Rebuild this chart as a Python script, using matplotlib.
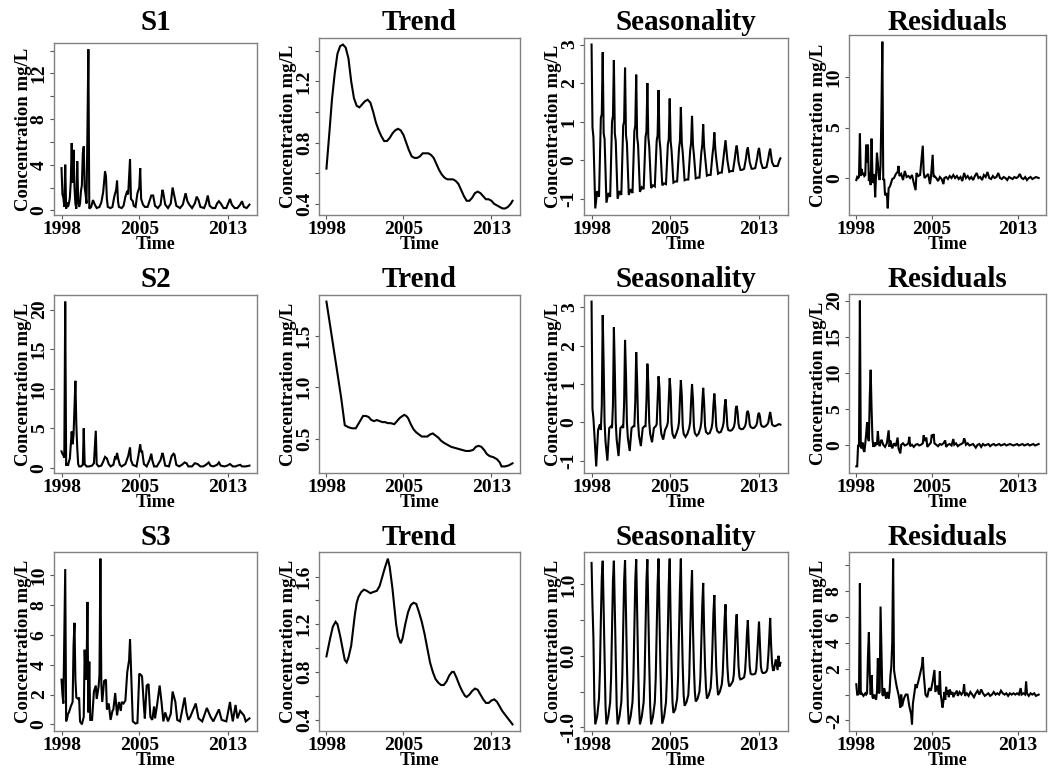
import matplotlib
matplotlib.use("Agg")
import matplotlib.pyplot as plt

# ---------------- data (months since Jan 1998) ----------------
START_YEAR = 1998
N_MONTHS = 204

s1_t = [0,1,2,3,4,5,6,7,8,9,10,11,12,13,14,15,16,17,18,19,20,21,22,23,24,25,26,27,28,29,30,
        32,34,36,38,41,43,45,47,48,49,50,53,55,57,59,60,61,62,65,67,69,71,72,74,75,77,78,80,82,84,
        85,86,88,90,93,95,97,99,101,104,107,109,110,112,115,118,120,122,124,128,131,134,136,138,
        141,144,146,148,150,154,156,158,160,163,166,168,170,172,175,178,180,182,184,187,190,193,
        195,197,200,203]
s1_v = [3.7,1.4,1.1,0.3,4.0,0.15,0.7,0.3,0.6,1.1,2.5,5.9,2.4,5.3,2.0,0.6,0.15,4.3,0.9,0.3,0.6,
        1.7,2.2,5.0,5.6,2.0,1.4,0.6,7.0,14.1,0.15,
        0.3,0.9,0.5,0.2,0.3,0.7,1.6,3.4,3.0,1.0,0.3,0.2,0.3,1.2,1.8,2.6,0.8,0.3,0.2,0.4,1.2,1.7,1.4,
        4.5,1.0,0.8,0.4,0.3,1.5,2.0,3.7,1.0,0.5,0.3,0.3,0.8,1.3,1.3,0.4,0.2,0.5,1.8,1.5,0.5,0.2,0.6,
        2.0,1.2,0.4,0.2,0.5,1.5,0.8,0.5,0.2,0.6,1.2,0.9,0.3,0.2,0.6,1.3,0.4,0.2,0.2,0.6,0.8,0.6,0.2,
        0.2,0.6,1.0,0.5,0.2,0.2,0.5,0.8,0.3,0.2,0.5]

s1_trend_t = list(range(0, 202, 3)) + [203]
s1_trend_v = [0.63,0.85,1.08,1.25,1.38,1.43,1.44,1.42,1.35,1.20,1.09,1.04,1.03,1.05,1.07,1.08,
              1.06,1.00,0.93,0.88,0.84,0.81,0.81,0.83,0.86,0.88,0.89,0.88,0.85,0.80,0.75,0.71,
              0.70,0.70,0.71,0.73,0.73,0.73,0.72,0.70,0.66,0.62,0.59,0.57,0.56,0.56,0.56,0.55,
              0.53,0.49,0.45,0.42,0.42,0.44,0.47,0.48,0.47,0.45,0.43,0.43,0.42,0.40,0.39,0.38,
              0.37,0.37,0.38,0.40,0.42]

# seasonal tables: one row per year, values at the month offsets given
s1_seas_offsets = [0, 1, 2, 4, 6, 8, 10, 11]
s1_seas = [
    [3.00, 0.85, 0.60, -1.25, -0.80, -0.95, 1.10, 1.20],
    [2.80, 0.70, 0.55, -1.10, -0.85, -0.95, 1.00, 1.15],
    [2.60, 0.70, 0.50, -1.00, -0.80, -0.90, 0.90, 1.00],
    [2.40, 0.65, 0.45, -0.90, -0.75, -0.85, 0.75, 0.90],
    [2.22, 0.60, 0.40, -0.82, -0.70, -0.75, 0.60, 0.75],
    [2.00, 0.60, 0.35, -0.72, -0.65, -0.68, 0.50, 0.65],
    [1.82, 0.55, 0.30, -0.65, -0.60, -0.62, 0.40, 0.55],
    [1.60, 0.50, 0.25, -0.58, -0.55, -0.55, 0.30, 0.50],
    [1.38, 0.45, 0.20, -0.52, -0.50, -0.50, 0.25, 0.45],
    [1.15, 0.40, 0.15, -0.47, -0.45, -0.45, 0.20, 0.40],
    [0.93, 0.35, 0.10, -0.40, -0.38, -0.38, 0.15, 0.35],
    [0.72, 0.30, 0.05, -0.35, -0.32, -0.32, 0.10, 0.30],
    [0.52, 0.25, 0.00, -0.30, -0.28, -0.28, 0.05, 0.25],
    [0.38, 0.20, -0.05, -0.25, -0.25, -0.22, 0.05, 0.25],
    [0.33, 0.15, -0.05, -0.22, -0.22, -0.20, 0.05, 0.22],
    [0.32, 0.15, -0.05, -0.20, -0.20, -0.18, 0.05, 0.20],
    [0.30, 0.12, -0.05, -0.15, -0.15, -0.15, 0.00, 0.05],
]

s1_res_t = [0,1,2,3,4,5,6,7,8,9,10,11,12,13,14,15,16,17,18,19,20,21,22,23,24,25,26,27,28,29,30,31,
            32,33,34,35,36,37,38,40,42,44,46,47,48,50,52,54,56,58,60,62,64,66,67,69,71,74,75,76,78,80,
            82,83,85,86,87,89,91,93,95,97,98,100,102,104,106,108,110,112,114,116,118,120,122,124,
            126,128,130,132,134,136,138,140,142,144,146,148,150,152,154,156,158,160,162,164,166,168,
            170,172,174,176,178,180,182,184,186,188,190,192,194,196,198,200,203]
s1_res_v = [-0.2,0.1,0.0,0.1,4.4,0.2,0.9,0.3,0.5,0.2,0.3,3.3,1.5,3.3,-0.3,0.5,-0.7,3.9,0.2,-0.5,0.4,
            -1.9,0.3,2.5,1.5,0.2,-0.2,1.3,6.7,13.5,-0.2,-0.1,-1.7,-1.6,-1.5,-3.0,-1.0,-0.9,-0.7,-0.1,
            0.0,0.4,0.6,1.2,0.2,0.4,-0.2,0.7,0.1,0.2,0.0,0.3,-0.5,-1.2,0.5,0.2,0.3,3.2,0.6,0.0,0.2,0.4,
            -0.6,0.0,2.3,0.1,0.2,0.0,-0.3,0.1,-0.1,-0.6,0.0,0.1,-0.1,0.2,0.0,0.3,0.0,0.2,-0.1,0.1,-0.3,
            0.5,0.0,0.2,-0.1,0.1,-0.2,0.2,0.5,0.0,0.1,-0.2,0.3,0.1,0.6,0.0,-0.1,0.2,0.0,0.1,0.5,0.0,
            -0.1,0.1,0.0,-0.2,0.1,0.0,-0.1,0.1,0.0,0.1,0.4,0.0,-0.1,0.1,-0.2,0.0,0.1,-0.1,0.0,0.1,0.0]

s2_t = [0,1,2,3,4,5,6,7,8,9,11,12,13,14,15,16,17,18,19,21,23,24,25,27,30,33,35,37,38,40,43,45,47,
        49,51,53,56,58,59,60,61,63,65,69,72,74,75,77,81,83,85,86,87,89,92,95,97,98,100,103,107,109,
        110,112,116,119,121,122,124,127,130,133,135,137,141,144,147,150,153,156,159,161,164,168,
        170,172,176,179,182,185,188,190,193,195,199,203]
s2_v = [2.1,1.8,1.6,1.3,21.0,0.3,0.6,0.3,0.8,1.2,4.6,3.0,4.2,7.6,11.0,5.5,2.5,0.5,0.2,0.2,0.4,5.0,
        0.5,0.2,0.2,0.3,0.6,4.7,0.5,0.2,0.3,0.8,1.4,1.2,0.5,0.2,0.4,1.5,1.1,1.9,1.3,0.4,0.2,0.5,1.5,
        2.6,1.0,0.4,0.2,1.5,3.0,2.0,2.2,0.5,0.2,1.0,1.8,1.0,0.2,0.2,1.0,1.9,1.5,0.3,0.2,1.5,1.8,1.7,
        0.4,0.2,0.4,0.7,0.6,0.2,0.2,0.6,0.5,0.2,0.2,0.4,0.7,0.3,0.2,0.4,0.7,0.3,0.2,0.3,0.5,0.2,0.2,
        0.3,0.4,0.2,0.2,0.3]

s2_trend_t = [0,10,16,20,24,28,32,36,40,43,46,49,52,55,58,61,64,67,70,74,77,80,83,85,87,89,92,95,
              98,101,104,107,110,113,116,119,122,125,128,132,136,140,144,148,152,156,160,163,166,
              169,172,175,178,182,186,189,191,195,199,203]
s2_trend_v = [1.83,1.25,0.90,0.63,0.61,0.60,0.60,0.66,0.72,0.72,0.71,0.68,0.67,0.68,0.67,0.66,0.66,
              0.65,0.65,0.64,0.67,0.70,0.72,0.73,0.72,0.70,0.64,0.59,0.56,0.54,0.52,0.52,0.52,0.54,
              0.55,0.53,0.51,0.48,0.46,0.44,0.42,0.41,0.40,0.39,0.38,0.38,0.39,0.42,0.43,0.42,0.39,
              0.35,0.33,0.32,0.30,0.27,0.23,0.23,0.24,0.26]

s2_seas_offsets = [0, 1, 2, 3, 5, 7, 9, 10, 11]
s2_seas = [
    [3.15, 0.35, 0.10, -0.30, -1.15, -0.20, -0.05, -0.20, 0.45],
    [2.80, 1.50, 0.00, -0.50, -1.00, -0.15, -0.10, -0.15, 0.45],
    [2.48, 1.35, 0.00, -0.45, -0.88, -0.15, -0.10, -0.15, 0.50],
    [2.15, 1.25, 0.00, -0.40, -0.75, -0.15, -0.10, -0.10, 0.55],
    [1.83, 1.05, 0.00, -0.35, -0.62, -0.15, -0.10, -0.10, 0.55],
    [1.53, 1.00, 0.00, -0.30, -0.52, -0.15, -0.10, -0.05, 0.60],
    [1.20, 0.90, -0.05, -0.30, -0.45, -0.20, -0.10, 0.00, 0.60],
    [1.15, 0.80, -0.05, -0.30, -0.42, -0.30, -0.15, 0.00, 0.60],
    [1.10, 0.70, -0.10, -0.30, -0.38, -0.30, -0.15, 0.00, 0.55],
    [1.00, 0.60, -0.10, -0.28, -0.35, -0.30, -0.15, 0.00, 0.50],
    [0.90, 0.50, -0.10, -0.25, -0.30, -0.28, -0.15, 0.00, 0.45],
    [0.75, 0.40, -0.10, -0.22, -0.27, -0.25, -0.12, 0.00, 0.40],
    [0.60, 0.30, -0.10, -0.20, -0.22, -0.20, -0.12, 0.00, 0.35],
    [0.43, 0.25, -0.05, -0.15, -0.18, -0.17, -0.10, 0.00, 0.25],
    [0.30, 0.20, -0.05, -0.12, -0.15, -0.14, -0.08, 0.00, 0.20],
    [0.25, 0.15, -0.05, -0.10, -0.12, -0.10, -0.05, 0.00, 0.15],
    [0.27, 0.12, -0.05, -0.08, -0.10, -0.08, -0.05, -0.05, -0.06],
]

s2_res_t = [0,1,2,3,4,5,6,7,8,9,10,11,12,13,14,15,16,17,18,19,20,21,22,23,24,25,26,27,28,30,32,34,
            36,37,38,40,42,44,46,47,49,50,52,54,56,58,59,60,62,64,66,68,70,72,74,75,76,78,79,81,83,
            84,85,86,87,89,91,93,95,97,99,100,102,104,106,108,109,111,113,115,117,119,120,121,122,
            124,126,128,130,133,135,137,139,141,143,145,147,149,151,153,155,157,159,161,163,165,
            167,169,171,173,175,177,179,181,183,185,187,189,191,193,195,197,199,201,203]
s2_res_v = [-3.0,-3.0,0.0,-0.3,20.0,-0.3,-0.5,0.3,-0.7,-1.0,0.2,1.5,3.1,1.0,0.5,6.7,10.4,5.0,0.8,
            -0.3,0.3,-0.2,0.3,0.0,1.9,0.3,-0.2,0.3,0.7,0.0,-0.3,0.2,2.0,-0.3,0.6,-0.5,0.2,-0.2,1.0,
            -0.5,-1.2,0.0,0.2,-0.1,0.0,0.2,1.1,-0.2,0.0,-0.3,0.0,0.1,-0.1,0.0,0.2,1.3,0.5,1.0,-0.3,
            0.0,0.3,1.4,1.0,1.5,0.2,0.0,-0.2,0.1,0.0,0.2,0.6,-0.3,0.0,0.1,-0.1,0.8,0.0,0.2,-0.2,0.0,
            0.1,0.3,0.9,0.6,0.0,0.2,-0.1,0.0,0.1,-0.4,0.0,0.1,-0.3,0.1,-0.1,0.0,0.1,-0.2,0.0,0.1,
            -0.1,0.0,0.1,-0.1,0.0,0.1,-0.1,0.0,0.1,0.0,-0.1,0.0,0.1,-0.1,0.0,0.1,-0.1,0.0,0.1,-0.1,
            0.0,0.1,-0.1,0.0,0.1]

s3_t = [0,1,2,4,5,6,7,8,10,12,13,14,15,16,18,19,20,22,24,25,26,27,28,29,30,31,33,35,37,38,40,41,
        42,43,44,46,48,49,51,53,55,56,58,60,62,64,65,67,69,71,73,74,76,77,80,82,84,86,87,89,90,92,
        94,96,98,100,101,103,106,108,110,112,115,118,120,123,125,128,133,135,137,139,145,148,152,
        157,161,164,170,173,178,182,183,185,188,190,193,197,199,203]
s3_v = [3.0,2.0,1.4,10.4,0.2,0.4,0.7,0.8,1.2,1.5,5.3,6.8,3.0,1.8,1.7,1.8,0.2,0.0,0.5,5.0,3.0,3.2,
        8.2,0.8,4.2,0.3,0.3,2.2,2.6,1.7,2.5,3.3,11.1,2.7,1.5,2.9,3.0,1.0,1.4,0.3,0.9,1.0,2.1,0.6,
        1.5,0.9,1.5,1.4,1.6,3.5,4.3,5.7,2.0,0.2,0.05,0.1,3.4,3.3,3.2,1.2,0.4,2.6,2.7,0.5,0.3,1.2,
        0.4,1.2,2.6,1.5,0.2,0.8,0.2,0.7,2.2,1.5,0.3,0.2,1.8,0.8,0.3,0.5,1.4,0.4,0.2,1.1,0.5,0.2,
        1.0,0.3,0.2,1.5,1.0,0.2,1.3,0.4,0.9,0.6,0.2,0.4]

s3_trend_t = [0,4,7,10,12,15,18,20,22,24,27,29,31,33,35,38,41,44,48,51,55,58,61,64,67,69,72,74,
              76,78,81,83,86,89,92,95,98,101,104,107,110,113,116,119,122,125,128,131,134,137,139,
              142,145,148,151,153,156,159,162,165,168,171,174,177,180,183,186,189,192,196,200,203]
s3_trend_v = [0.93,1.08,1.18,1.22,1.20,1.10,0.98,0.90,0.88,0.92,1.02,1.15,1.28,1.38,1.43,1.47,
              1.49,1.48,1.46,1.47,1.48,1.52,1.60,1.68,1.75,1.68,1.50,1.35,1.20,1.10,1.04,1.08,
              1.20,1.30,1.36,1.38,1.37,1.30,1.22,1.12,1.00,0.88,0.80,0.74,0.71,0.69,0.69,0.72,
              0.77,0.80,0.80,0.75,0.69,0.64,0.60,0.59,0.61,0.64,0.66,0.65,0.61,0.57,0.54,0.54,
              0.56,0.57,0.55,0.51,0.47,0.43,0.39,0.36]

s3_seas_offsets = [0, 1, 2, 3, 4, 6, 8, 9, 10, 11]
s3_seas = [
    [1.30, 0.70, 0.25, -0.65, -0.96, -0.85, -0.60, -0.20, 0.50, 1.10],
    [1.33, 0.65, -0.10, -0.70, -0.96, -0.85, -0.65, -0.30, 0.40, 1.05],
    [1.33, 0.65, -0.10, -0.70, -0.96, -0.85, -0.65, -0.30, 0.40, 1.05],
    [1.34, 0.62, -0.10, -0.70, -0.96, -0.85, -0.65, -0.30, 0.40, 1.05],
    [1.35, 0.60, -0.10, -0.70, -0.96, -0.85, -0.65, -0.30, 0.40, 1.05],
    [1.35, 0.58, -0.10, -0.70, -0.96, -0.85, -0.65, -0.30, 0.35, 1.00],
    [1.36, 0.55, -0.15, -0.70, -0.95, -0.85, -0.65, -0.30, 0.35, 1.00],
    [1.36, 0.50, -0.15, -0.65, -0.80, -0.75, -0.60, -0.30, 0.30, 0.95],
    [1.36, 0.45, -0.15, -0.55, -0.70, -0.65, -0.55, -0.30, 0.25, 0.85],
    [1.20, 0.40, -0.15, -0.50, -0.64, -0.60, -0.50, -0.30, 0.20, 0.70],
    [1.02, 0.35, -0.15, -0.45, -0.60, -0.55, -0.45, -0.25, 0.15, 0.60],
    [0.85, 0.30, -0.15, -0.40, -0.55, -0.50, -0.40, -0.25, 0.10, 0.50],
    [0.72, 0.25, -0.15, -0.35, -0.43, -0.40, -0.35, -0.25, 0.05, 0.40],
    [0.58, 0.20, -0.15, -0.30, -0.33, -0.32, -0.30, -0.22, 0.00, 0.30],
    [0.50, 0.15, -0.15, -0.25, -0.26, -0.26, -0.25, -0.20, 0.00, 0.25],
    [0.48, 0.15, -0.15, -0.22, -0.24, -0.24, -0.22, -0.18, 0.00, 0.25],
    [0.53, 0.15, -0.10, -0.20, -0.20, -0.05, -0.20, 0.00, -0.15, -0.10],
]

s3_res_t = [0,1,2,3,4,5,6,7,8,9,10,11,12,13,14,15,16,17,18,19,20,21,22,23,24,25,26,27,28,29,30,31,
            32,33,34,35,36,37,38,39,40,41,42,43,45,47,48,49,50,51,53,55,57,59,61,62,63,64,65,66,67,
            69,71,73,74,75,77,79,81,83,85,87,88,90,92,93,94,96,97,98,99,100,101,102,103,104,106,107,
            108,110,112,113,115,117,119,120,121,123,125,127,129,131,133,135,137,139,141,143,145,147,
            149,151,153,155,157,159,161,163,165,167,169,171,173,175,177,179,181,183,184,186,188,189,
            190,192,194,196,198,200,203]
s3_res_v = [0.8,0.0,0.0,0.1,8.6,0.0,0.1,0.0,-0.1,0.0,0.1,0.0,0.1,3.0,4.8,1.6,0.0,1.5,-0.2,-0.3,0.0,
            -0.2,-0.4,0.2,2.8,0.1,0.2,6.8,3.4,0.0,-0.1,0.5,0.2,-0.3,0.0,0.2,-0.3,0.2,1.5,2.2,4.0,
            10.5,1.9,1.4,0.6,0.0,-0.4,-1.0,0.0,-0.9,-0.3,0.0,0.0,-0.9,-1.5,-2.3,-0.7,-0.2,0.3,0.8,
            0.5,1.0,1.6,2.2,2.9,1.6,0.0,-0.2,0.5,0.3,1.0,1.9,0.2,0.7,0.0,1.8,0.0,-1.0,-0.5,0.2,-0.4,
            0.6,0.0,0.3,-0.2,0.4,0.0,0.2,-0.2,0.1,0.3,-0.1,0.2,0.0,0.2,0.8,-0.1,0.1,-0.1,0.2,0.0,
            -0.2,0.1,0.3,0.0,0.4,0.1,-0.1,0.0,0.1,-0.1,0.0,0.2,0.0,0.1,0.0,0.3,0.1,0.0,0.1,-0.1,0.1,
            0.0,0.1,0.0,0.1,0.0,0.5,0.0,0.1,0.0,1.0,0.1,-0.1,0.1,0.0,0.1,-0.1,0.0]

titles = ["S1", "Trend", "Seasonality", "Residuals",
          "S2", "Trend", "Seasonality", "Residuals",
          "S3", "Trend", "Seasonality", "Residuals"]

x_ticks = [1998, 2005, 2013]

# y tick positions and which of them carry labels
y_ticks = [
    [0, 2, 4, 6, 8, 10, 12, 14], [0.4, 0.6, 0.8, 1.0, 1.2, 1.4], [-1, 0, 1, 2, 3], [0, 5, 10],
    [0, 5, 10, 15, 20], [0.5, 1.0, 1.5], [-1, 0, 1, 2, 3], [0, 5, 10, 15, 20],
    [0, 2, 4, 6, 8, 10], [0.4, 0.6, 0.8, 1.0, 1.2, 1.4, 1.6], [-1.0, -0.5, 0.0, 0.5, 1.0],
    [-2, 0, 2, 4, 6, 8, 10],
]
y_labels = [
    ["0", "", "4", "", "8", "", "12", ""], ["0.4", "", "0.8", "", "1.2", ""], ["-1", "0", "1", "2", "3"],
    ["0", "5", "10"],
    ["0", "5", "10", "15", "20"], ["0.5", "1.0", "1.5"], ["-1", "0", "1", "2", "3"],
    ["0", "5", "10", "15", "20"],
    ["0", "2", "4", "6", "8", "10"], ["0.4", "", "0.8", "", "1.2", "", "1.6"],
    ["-1.0", "", "0.0", "", "1.0"], ["-2", "", "2", "4", "6", "8", ""],
]


def seasonal_points(table, offsets):
    t, v = [], []
    for k, row in enumerate(table):
        for off, val in zip(offsets, row):
            m = 12 * k + off
            if m < N_MONTHS:
                t.append(m)
                v.append(val)
    return t, v


series = [
    (s1_t, s1_v), (s1_trend_t, s1_trend_v), seasonal_points(s1_seas, s1_seas_offsets), (s1_res_t, s1_res_v),
    (s2_t, s2_v), (s2_trend_t, s2_trend_v), seasonal_points(s2_seas, s2_seas_offsets), (s2_res_t, s2_res_v),
    (s3_t, s3_v), (s3_trend_t, s3_trend_v), seasonal_points(s3_seas, s3_seas_offsets), (s3_res_t, s3_res_v),
]

# ---------------- layout (pixels) ----------------
W, H = 1049, 771
lefts = [54, 319, 584, 849]
rights = [257, 520, 788, 1046]
tops = [[43, 38, 38, 35], [295, 295, 295, 294], [552, 552, 552, 552]]
bottoms = [215, 473, 731]
title_baselines = [30, 287, 545]

FONT = "Liberation Serif"
fig = plt.figure(figsize=(W / 100, H / 100), dpi=100)

for idx, (t, v) in enumerate(series):
    r, c = divmod(idx, 4)
    l, rr = lefts[c], rights[c]
    tp, bt = tops[r][c], bottoms[r]
    ax = fig.add_axes([l / W, 1 - bt / H, (rr - l) / W, (bt - tp) / H])
    years = [START_YEAR + m / 12.0 for m in t]
    ax.plot(years, v, color="black", lw=1.5, solid_joinstyle="miter")
    ax.set_xlim(1998 - 0.04 * 16.92, 1998 + 16.92 * 1.04)
    lo, hi = min(v), max(v)
    pad = 0.04 * (hi - lo)
    ax.set_ylim(lo - pad, hi + pad)
    ax.set_xticks(x_ticks)
    ax.set_xticklabels([str(x) for x in x_ticks])
    ax.set_yticks(y_ticks[idx])
    ax.set_yticklabels(y_labels[idx], rotation=90, va="center")
    ax.tick_params(axis="both", length=3, width=0.8, color="#555555", pad=1.5,
                   labelsize=14)
    for lab in ax.get_xticklabels() + ax.get_yticklabels():
        lab.set_fontfamily(FONT)
        lab.set_fontweight("bold")
    for sp in ax.spines.values():
        sp.set_color("#808080")
        sp.set_linewidth(1.0)
    hpx = bt - tp
    wpx = rr - l
    ax.set_title(titles[idx], fontfamily=FONT, fontweight="bold", fontsize=21,
                 y=(bt - title_baselines[r]) / hpx, va="baseline", pad=0)
    ax.set_xlabel("Time", fontfamily=FONT, fontweight="bold", fontsize=13)
    ax.xaxis.set_label_coords(0.5, -21 / hpx)
    ax.set_ylabel("Concentration mg/L", fontfamily=FONT, fontweight="bold", fontsize=13.5)
    ax.yaxis.set_label_coords(-22 / wpx, 0.5)

fig.savefig("out.png", dpi=100)
